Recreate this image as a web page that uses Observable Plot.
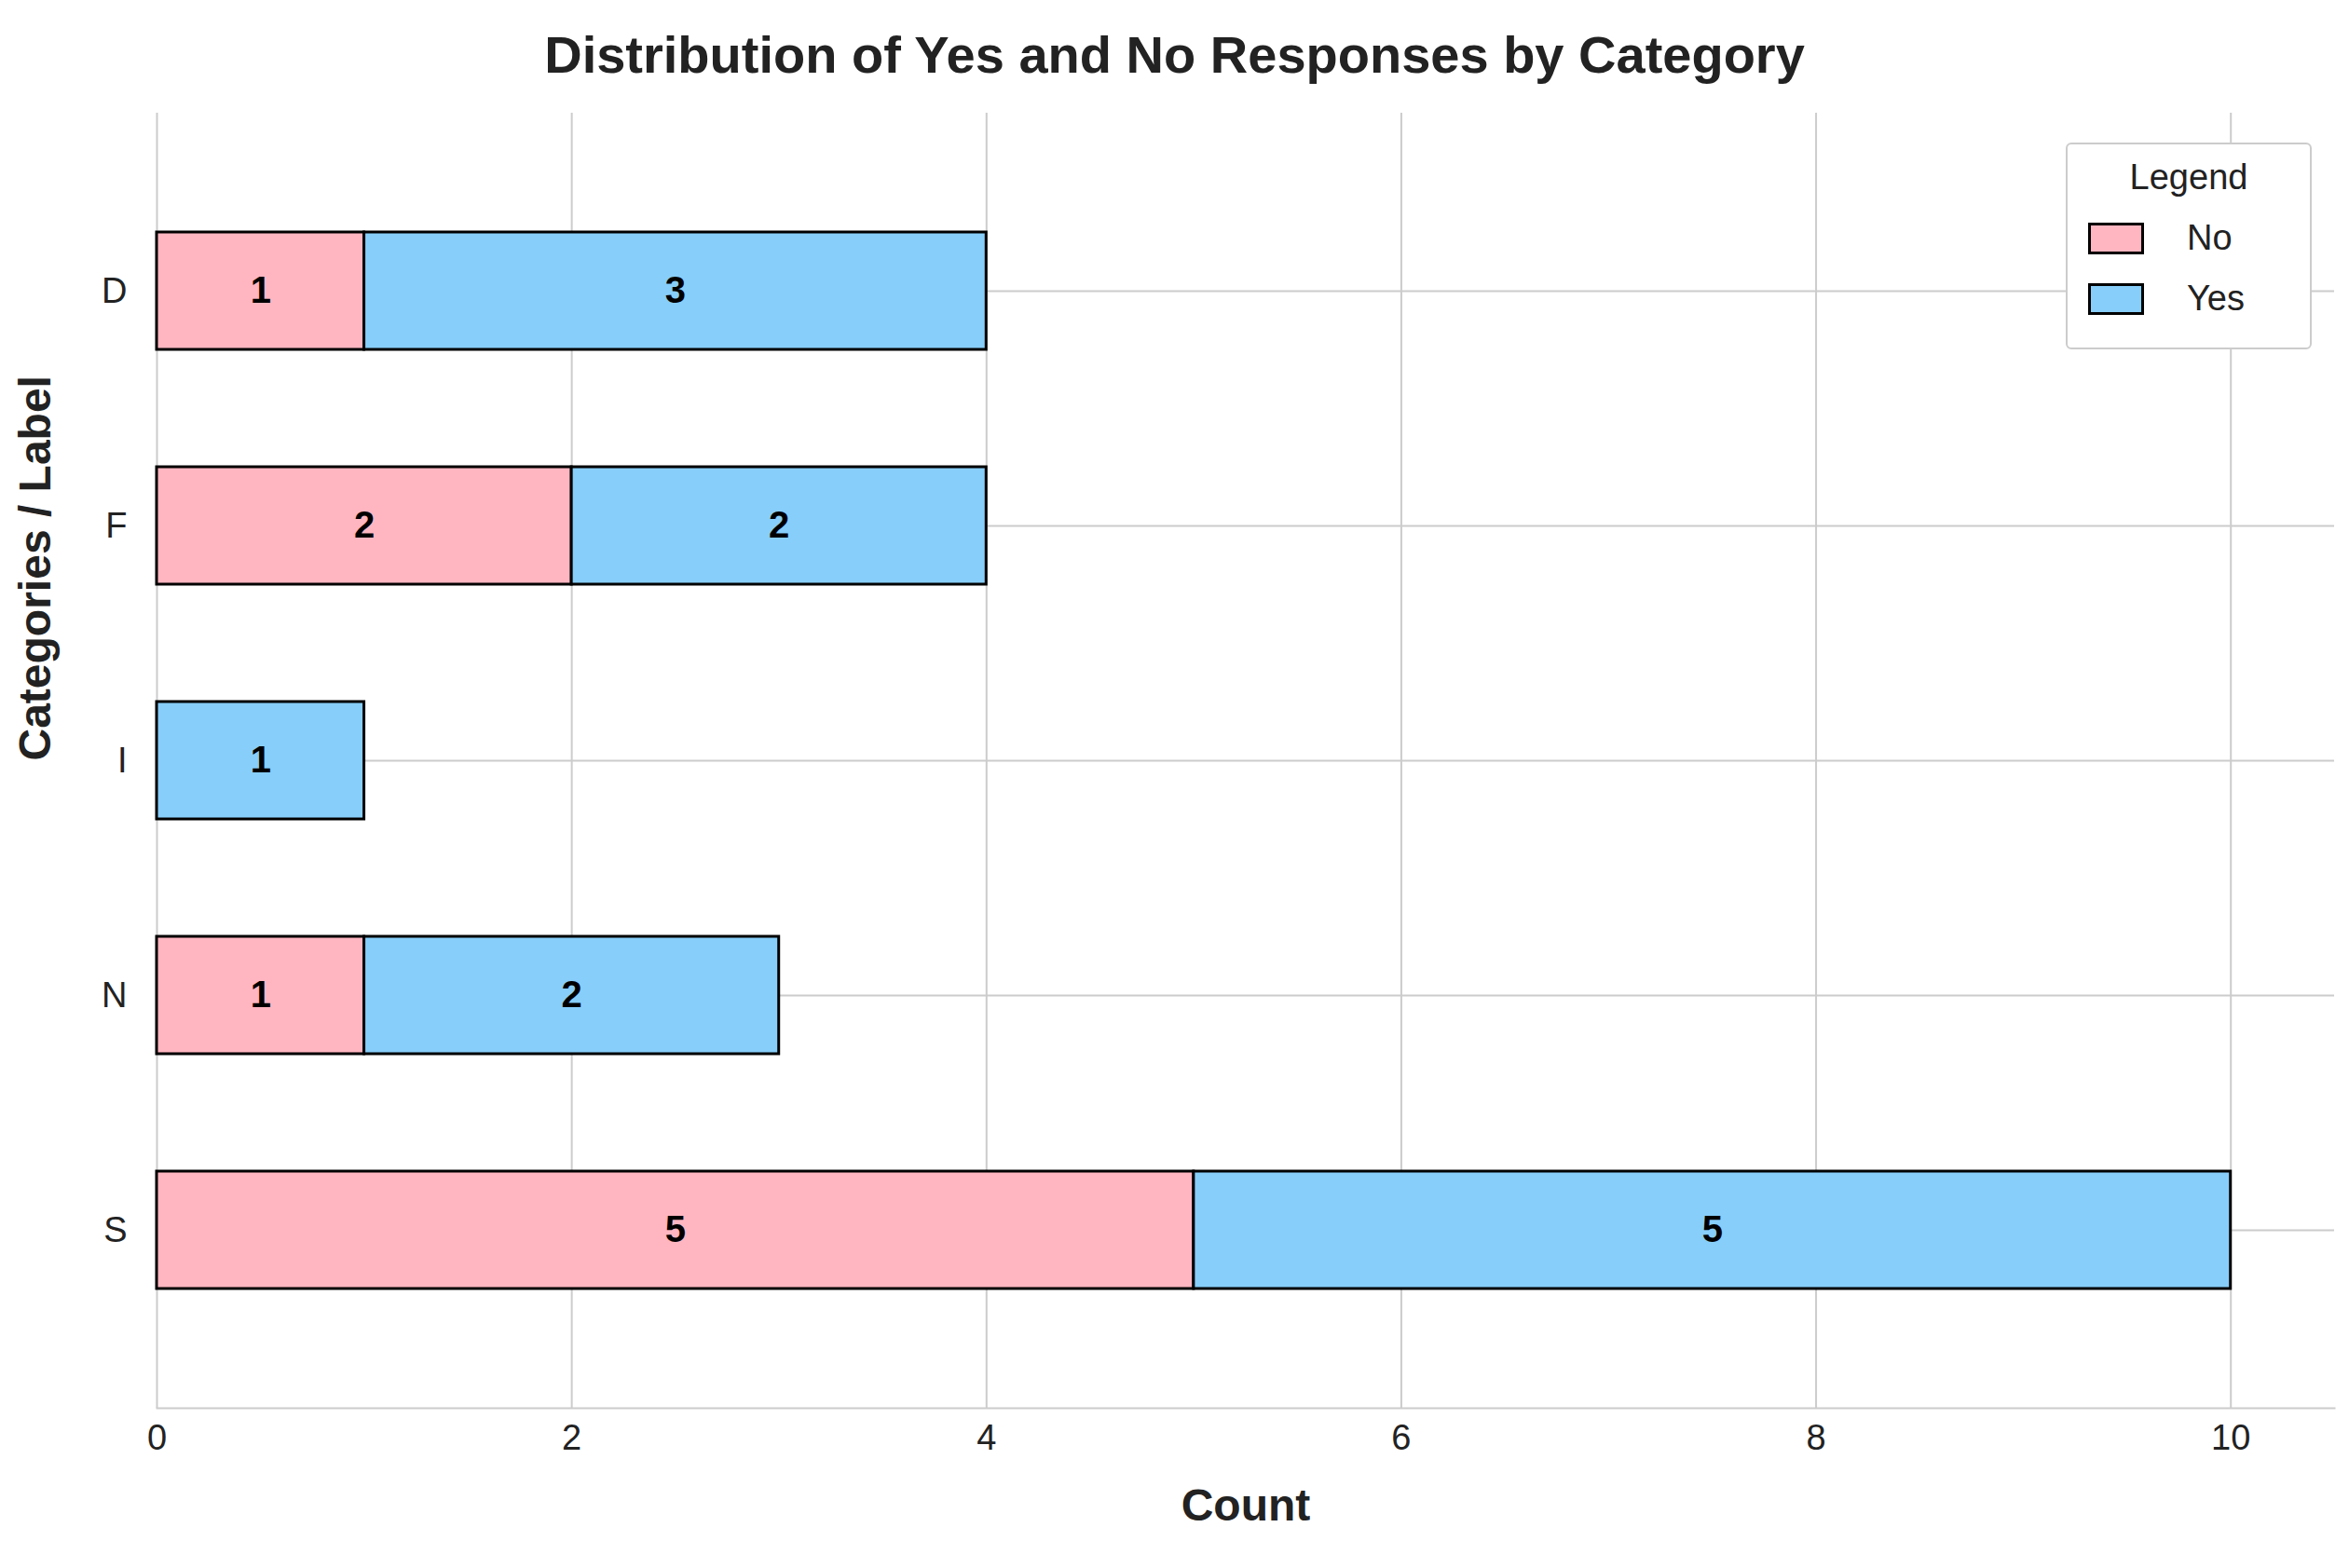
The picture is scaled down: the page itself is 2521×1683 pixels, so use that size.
<!DOCTYPE html>
<html><head><meta charset="utf-8">
<script src="https://cdn.jsdelivr.net/npm/d3@7"></script>
<script src="https://cdn.jsdelivr.net/npm/@observablehq/plot@0.6"></script>
<style>
body{margin:0;background:#fff;font-family:"Liberation Sans",Arial,sans-serif;}
#wrap{position:relative;width:2521px;height:1683px;}
#title{height:110px;text-align:center;font-weight:bold;font-size:56px;line-height:118px;color:#222;}
#legend{position:absolute;left:2217px;top:153px;width:264px;height:222px;border:2px solid #ccc;border-radius:6px;background:#fff;box-sizing:border-box;font-size:38px;color:#222;}
#legend .t{text-align:center;margin-top:14px;}
#legend .r{display:flex;align-items:center;margin-left:22px;margin-top:22px;}
#legend .s{width:60px;height:34px;border:3px solid #000;margin-right:46px;box-sizing:border-box;}
</style></head><body>
<div id="wrap"><div id="title">Distribution of Yes and No Responses by Category</div><div id="chart"></div>
<div id="legend"><div class="t">Legend</div>
<div class="r"><div class="s" style="background:#FFB6C1"></div>No</div>
<div class="r"><div class="s" style="background:#87CEFA"></div>Yes</div></div></div>
<script>
const categories = ["D", "F", "I", "N", "S"];
const noCounts = [1, 2, 0, 1, 5];
const yesCounts = [3, 2, 1, 2, 5];
const responses = ["No", "Yes"];

let data = [];
categories.forEach((c, i) => {
  data.push({cat: c, resp: "No", n: noCounts[i]});
  data.push({cat: c, resp: "Yes", n: yesCounts[i]});
});
data = data.filter(d => d.n > 0);

let chart = Plot.plot({
  width: 2521, height: 1573,
  marginTop: 11, marginBottom: 172, marginLeft: 168, marginRight: 16,
  style: {fontFamily: "Liberation Sans, Arial, sans-serif", fontSize: "38px", color: "#222"},
  x: {domain: [0, 10.5], label: null},
  y: {domain: categories, padding: 0.5, label: null},
  color: {domain: responses, range: ["#FFB6C1", "#87CEFA"]},
  marks: [
    Plot.gridX([0, 2, 4, 6, 8, 10], {stroke: "#ccc", strokeOpacity: 1, strokeWidth: 2}),
    Plot.gridY(categories, {stroke: "#ccc", strokeOpacity: 1, strokeWidth: 2}),
    Plot.frame({anchor: "bottom", stroke: "#ccc", strokeWidth: 2}),
    Plot.barX(data, Plot.stackX({y: "cat", x: "n", z: "resp", fill: "resp", stroke: "#000", strokeWidth: 3, order: responses})),
    Plot.text(data, Plot.stackX({y: "cat", x: "n", z: "resp", text: "n", fontWeight: "bold", fontSize: 40, fill: "#000", order: responses})),
    Plot.axisX({ticks: [0, 2, 4, 6, 8, 10], tickSize: 0, tickPadding: 18, fontSize: 38, label: null}),
    Plot.axisY({tickSize: 0, tickPadding: 32, fontSize: 38, label: null}),
    Plot.text(["Count"], {frameAnchor: "bottom", dy: 120, fontSize: 48, fontWeight: "bold", fill: "#222"}),
    Plot.text(["Categories / Label"], {frameAnchor: "left", dx: -130, rotate: -90, fontSize: 48, fontWeight: "bold", fill: "#222"})
  ]
});
document.getElementById("chart").append(chart);
</script></body></html>
